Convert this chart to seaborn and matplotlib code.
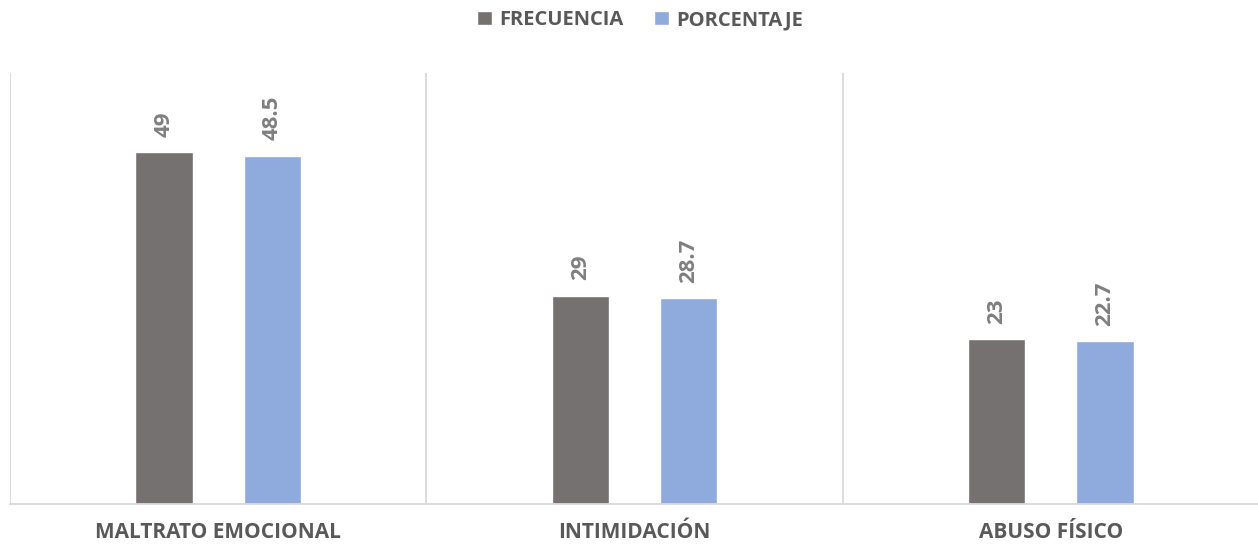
import matplotlib
matplotlib.use("Agg")
import matplotlib.pyplot as plt
import seaborn as sns
import pandas as pd
import numpy as np

categorias = ["MALTRATO EMOCIONAL", "INTIMIDACIÓN", "ABUSO FÍSICO"]
series = ["FRECUENCIA", "PORCENTAJE"]
frecuencia = [49, 29, 23]
porcentaje = [48.5, 28.7, 22.7]
colores = ["#767171", "#8FAADC"]

df = pd.DataFrame({
    "categoria": categorias * 2,
    "serie": [series[0]] * 3 + [series[1]] * 3,
    "valor": frecuencia + porcentaje,
})

sns.set_theme(style="white")
plt.rcParams["font.family"] = ["Open Sans", "DejaVu Sans"]

fig = plt.figure(figsize=(12.58, 5.46), dpi=100)
ax = fig.add_axes([10 / 1258, 42 / 546, 1249 / 1258, 431 / 546])

sns.barplot(data=df, x="categoria", y="valor", hue="serie", order=categorias,
            hue_order=series, palette=colores, width=0.52, gap=0.47,
            saturation=1, ax=ax, legend=True)

ax.set_ylim(0, 60)
ax.set_xlim(-0.5, 2.5)
ax.set_xlabel("")
ax.set_ylabel("")
ax.set_yticks([])

# vertical separators between categories
ax.set_xticks(np.arange(-0.5, 3.0, 1.0), minor=True)
ax.grid(True, which="minor", axis="x", color="#D9D9D9", linewidth=1.3)
ax.tick_params(axis="x", which="both", length=0)
ax.tick_params(axis="x", which="major", pad=13)
ax.set_xticks(range(3))
ax.set_xticklabels(categorias, fontsize=15, fontweight="bold", color="#595959")
for sp in ["top", "left", "right"]:
    ax.spines[sp].set_visible(False)
ax.spines["bottom"].set_color("#D9D9D9")
ax.spines["bottom"].set_linewidth(1.3)

for cont in ax.containers:
    ax.bar_label(cont, labels=[f"{v:g}" for v in cont.datavalues], rotation=90,
                 padding=11, fontsize=16, fontweight="bold", color="#7F7F7F")

handles, labels = ax.get_legend_handles_labels()
ax.legend_.remove()
fig.legend(handles, labels, loc="center", bbox_to_anchor=(640 / 1258, 1 - 20 / 546),
           ncol=2, frameon=False, handlelength=0.75, handleheight=0.75,
           handletextpad=0.35, columnspacing=1.5,
           prop={"size": 14.5, "weight": "bold"}, labelcolor="#595959")

fig.savefig("out.png", dpi=100, facecolor="white")
